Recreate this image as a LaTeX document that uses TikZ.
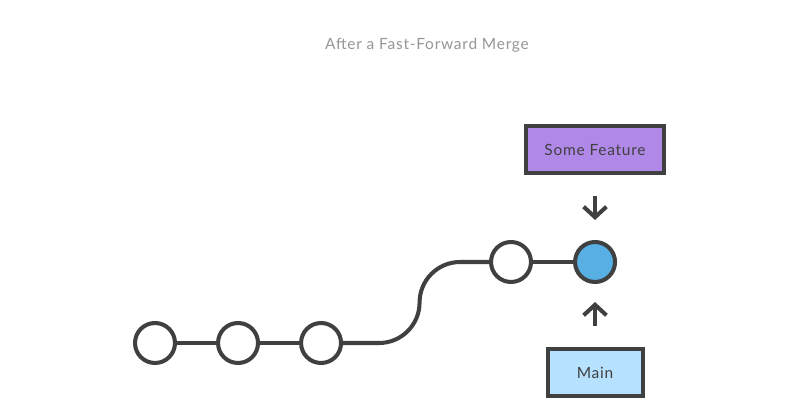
\documentclass[tikz,border=0pt]{standalone}
\usepackage{fontspec}
\setmainfont{Lato}[LetterSpace=5]
\usetikzlibrary{arrows.meta,positioning}
\definecolor{inkgrey}{RGB}{64,64,64}
\definecolor{titlegrey}{RGB}{150,150,150}
\definecolor{featpurple}{RGB}{176,137,232}
\definecolor{tipblue}{RGB}{88,175,227}
\definecolor{mainblue}{RGB}{183,226,255}

\begin{document}
\begin{tikzpicture}[x=0.02cm,y=0.02cm,
          commit/.style={circle,draw=inkgrey,line width=2.3pt,fill=white,
                         minimum size=0.8cm,inner sep=0pt},
          branch/.style={draw=inkgrey,line width=2.3pt,minimum height=0.94cm,
                         font=\fontsize{8.8}{10}\selectfont,text=inkgrey},
          link/.style={draw=inkgrey,line width=2.3pt},
          pointer/.style={draw=inkgrey,line width=2.3pt,
                          -{Straight Barb[length=6pt,width=13pt]}}]
        \useasboundingbox (0,0) rectangle (800,405);
        \node[font=\fontsize{8.8}{10}\selectfont,text=titlegrey] (title) at (427,360)
          {After a Fast-Forward Merge};
        % old main line
        \node[commit] (c1) at (155,62) {};
        \node[commit,right=0.78cm of c1] (c2) {};
        \node[commit,right=0.78cm of c2] (c3) {};
        % feature commits
        \node[commit] (c4) at (511,143) {};
        \node[commit,fill=tipblue,right=0.8cm of c4] (c5) {};
        % branch labels
        \node[branch,fill=featpurple,minimum width=2.76cm,above=1.3cm of c5] (feat)
          {Some Feature};
        \node[branch,fill=mainblue,minimum width=1.9cm,below=1.26cm of c5] (main)
          {Main};
        \draw[link] (c1) -- (c2);
        \draw[link] (c2) -- (c3);
        \draw[link] (c3.east) -- ++(36,0)
          arc[start angle=-90,end angle=0,radius=40.5]
          arc[start angle=180,end angle=90,radius=40.5] -- (c4.west);
        \draw[link] (c4) -- (c5);
        \draw[pointer,shorten <=0.42cm,shorten >=0.4cm] (feat) -- (c5);
        \draw[pointer,shorten <=0.42cm,shorten >=0.36cm] (main) -- (c5);
      \end{tikzpicture}
\end{document}
